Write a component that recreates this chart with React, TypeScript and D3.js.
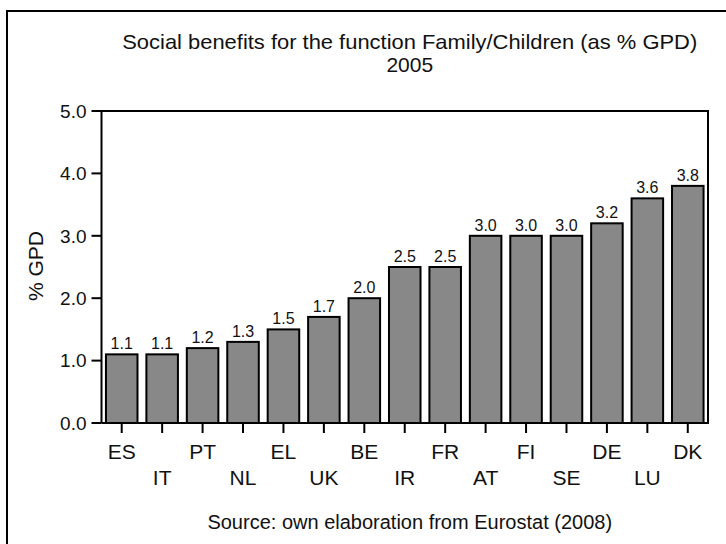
import React from "react";
import * as d3 from "d3";

const countries = ["ES", "IT", "PT", "NL", "EL", "UK", "BE", "IR", "FR", "AT", "FI", "SE", "DE", "LU", "DK"];
const values = [1.1, 1.1, 1.2, 1.3, 1.5, 1.7, 2.0, 2.5, 2.5, 3.0, 3.0, 3.0, 3.2, 3.6, 3.8];
const yTicks = [0, 1, 2, 3, 4, 5];
const titleLines = ["Social benefits for the function Family/Children (as % GPD)", "2005"];
const yLabel = "% GPD";
const sourceText = "Source: own elaboration from Eurostat (2008)";

const W = 726;
const H = 544;
const left = 101.5;
const right = 708;
const top = 111;
const bottom = 423;
const FONT = "'Liberation Sans', Arial, Helvetica, sans-serif";

export default function App() {
  const x = d3.scaleBand<string>().domain(countries).range([left, right]).paddingInner(0.22).paddingOuter(0.11);
  const y = d3.scaleLinear().domain([0, 5]).range([bottom, top]);
  const cx = (left + right) / 2 + 5;
  return (
    <svg width={W} height={H} style={{ position: "absolute", left: 0, top: 0, background: "#fff" }} fontFamily={FONT}>
      <rect x={7} y={11} width={760} height={600} fill="#fff" stroke="#000" strokeWidth={2} />
      <text x={cx} y={49} textAnchor="middle" fontSize={21} fill="#111" textLength={575} lengthAdjust="spacingAndGlyphs">{titleLines[0]}</text>
      <text x={cx} y={72} textAnchor="middle" fontSize={21} fill="#111">{titleLines[1]}</text>
      {/* plot frame */}
      <path d={`M${left},${bottom}V${top}H${right}V${bottom}H${left}`} fill="none" stroke="#000" strokeWidth={2} />
      {yTicks.map((t) => (
        <g key={t}>
          <line x1={left - 10} x2={left} y1={y(t)} y2={y(t)} stroke="#000" strokeWidth={2} />
          <text x={left - 15} y={y(t)} dy="0.36em" textAnchor="end" fontSize={19} fill="#111">{d3.format(".1f")(t)}</text>
        </g>
      ))}
      <text transform={`translate(43,${(top + bottom) / 2 - 1}) rotate(-90)`} textAnchor="middle" fontSize={21} fill="#111">{yLabel}</text>
      {countries.map((c, i) => {
        const bx = x(c)!;
        const bw = x.bandwidth();
        const v = values[i];
        const mid = bx + bw / 2;
        return (
          <g key={c}>
            <rect x={bx} y={y(v)} width={bw} height={y(0) - y(v)} fill="#888888" stroke="#000" strokeWidth={2} />
            <text x={mid} y={y(v) - 5} textAnchor="middle" fontSize={16} fill="#111">{v.toFixed(1)}</text>
            <line x1={mid} x2={mid} y1={bottom} y2={bottom + 10} stroke="#000" strokeWidth={2} />
            <text x={mid} y={i % 2 === 0 ? 459 : 485} textAnchor="middle" fontSize={21} fill="#111">{c}</text>
          </g>
        );
      })}
      <text x={cx} y={529} textAnchor="middle" fontSize={20} fill="#111">{sourceText}</text>
    </svg>
  );
}
